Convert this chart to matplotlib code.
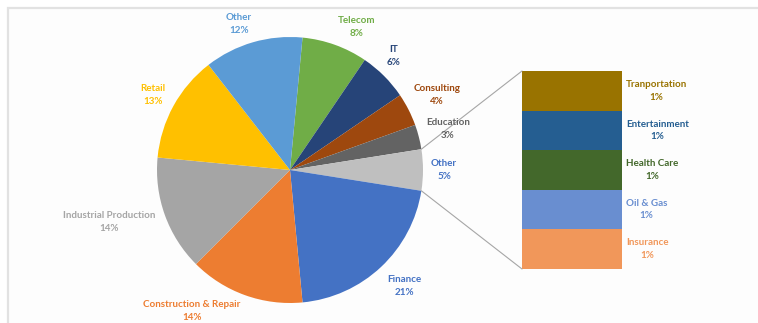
import matplotlib
matplotlib.use("Agg")
import matplotlib.pyplot as plt
from matplotlib.patches import ConnectionPatch, Rectangle
import numpy as np

# Sector shares (%) in clockwise order, starting just right of twelve o'clock
sectors = ["Telecom", "IT", "Consulting", "Education", "Other", "Finance",
           "Construction & Repair", "Industrial Production", "Retail", "Other"]
shares = [8, 6, 4, 3, 5, 21, 14, 14, 13, 12]
sector_colors = ["#70AD47", "#264478", "#9E480E", "#636363", "#BFBFBF", "#4472C4",
                 "#ED7D31", "#A5A5A5", "#FFC000", "#5B9BD5"]
label_colors = ["#70AD47", "#264478", "#9E480E", "#636363", "#4472C4", "#4472C4",
                "#ED7D31", "#A5A5A5", "#FFC000", "#5B9BD5"]

# Breakdown of the "Other" 5% slice, bottom to top
detail = ["Insurance", "Oil & Gas", "Health Care", "Entertainment", "Tranportation"]
detail_shares = [1, 1, 1, 1, 1]
detail_colors = ["#F1975A", "#698ED0", "#43682B", "#255E91", "#997300"]

W, H = 758, 323
fig = plt.figure(figsize=(W / 100, H / 100), dpi=100)
fig.patch.set_facecolor("white")

# light chart-area frame
frame = Rectangle((8 / W, -0.2), 1.2, (H - 8) / H + 0.2, transform=fig.transFigure,
                  facecolor="#FDFDFD", edgecolor="#E2E2E2", lw=1.6, zorder=-5)
fig.patches.append(frame)

def px_axes(x0, y0, x1, y1):
    ax = fig.add_axes([x0 / W, (H - y1) / H, (x1 - x0) / W, (y1 - y0) / H])
    ax.set_zorder(2)
    return ax

# pie, with the "Other" slice centred on the horizontal
cx, cy, r = 290, 170, 133
ax_pie = px_axes(cx - r, cy - r, cx + r, cy + r)
other_idx = 4
start = 360 * sum(shares[:other_idx]) / 100 + 360 * shares[other_idx] / 200
wedges, _ = ax_pie.pie(shares, colors=sector_colors, startangle=start,
                       counterclock=False, radius=1,
                       wedgeprops=dict(linewidth=0))
ax_pie.set_xlim(-1, 1)
ax_pie.set_ylim(-1, 1)
ax_pie.set_aspect("equal")
ax_pie.axis("off")

font = dict(family=["Lato", "DejaVu Sans"], fontsize=7.1, fontweight="bold")

# label centres in pixel coordinates
label_pos = [(357, 27), (394, 56), (437, 95), (448, 129), (444, 170), (404, 286),
             (192, 311), (109, 222), (153, 95), (239, 24)]
for name, val, col, (lx, ly) in zip(sectors, shares, label_colors, label_pos):
    fig.text(lx / W, (H - ly) / H, f"{name}\n{val}%", color=col, ha="center",
             va="center", multialignment="center", linespacing=1.5, zorder=5,
             **font)

# stacked bar for the breakdown
ax_bar = px_axes(522, 71, 622, 269)
bottom = 0
for name, val, col in zip(detail, detail_shares, detail_colors):
    ax_bar.bar(0, val, bottom=bottom, width=1, color=col, linewidth=0)
    ax_bar.text(0.54, bottom + val / 2, f"{name}\n{val}%", color=col,
                ha="left", va="center", multialignment="center", linespacing=1.5,
                clip_on=False, **font)
    bottom += val
ax_bar.set_xlim(-0.5, 0.5)
ax_bar.set_ylim(0, sum(detail_shares))
ax_bar.axis("off")

# connector lines from the "Other" slice to the bar
w = wedges[other_idx]
for ang, ybar in ((w.theta2, 1), (w.theta1, 0)):
    t = np.deg2rad(ang)
    con = ConnectionPatch(xyA=(np.cos(t), np.sin(t)), coordsA=ax_pie.transData,
                          xyB=(0, ybar), coordsB=ax_bar.transAxes,
                          color="#A6A6A6", lw=0.8, zorder=3)
    fig.add_artist(con)

fig.savefig("out.png", dpi=100, facecolor=fig.get_facecolor())
